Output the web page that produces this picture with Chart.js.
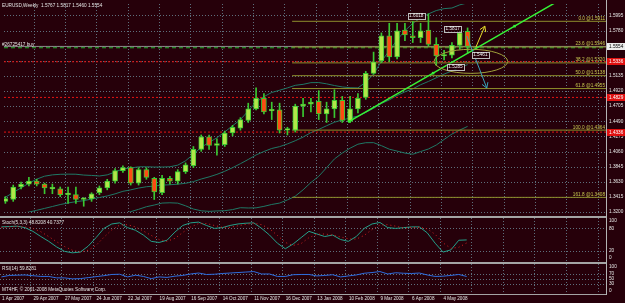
<!DOCTYPE html>
<html><head><meta charset="utf-8">
<script src="https://cdn.jsdelivr.net/npm/chart.js@4.4.1/dist/chart.umd.min.js"></script>
<style>
html,body{margin:0;padding:0;background:#26000a;overflow:hidden}
#wrap{position:relative;width:625px;height:303px;background:#26000a;overflow:hidden}
#wrap canvas{position:absolute;left:0}
.sep{position:absolute;left:0;width:607px;background:#a4a4a4}
</style></head><body>
<div id="wrap">
<canvas id="cMain" width="625" height="216" style="top:0px"></canvas>
<canvas id="cSto" width="625" height="44" style="top:218px"></canvas>
<canvas id="cRsi" width="625" height="39" style="top:264px"></canvas>
<div class="sep" style="top:216px;height:2px"></div>
<div class="sep" style="top:262px;height:2px"></div>
<div class="sep" style="top:294px;height:1px"></div>
<div style="position:absolute;left:606px;top:0;width:1px;height:295px;background:#b4b4b4"></div>
</div>
<script>
// ---------------- data ----------------
const symbol = 'EURUSD', period = 'Weekly';
const opens  = [1.3351,1.3378,1.3556,1.3597,1.3638,1.3597,1.3529,1.3529,1.3446,1.3446,1.3378,1.3385,1.3474,1.3542,1.3638,1.3789,1.3830,1.3611,1.3802,1.3679,1.3474,1.3679,1.3638,1.3775,1.3857,1.4090,1.4268,1.4145,1.4158,1.4323,1.4391,1.4501,1.4665,1.4815,1.4637,1.4651,1.4364,1.4364,1.4706,1.4733,1.4774,1.4596,1.4665,1.4788,1.4487,1.4665,1.4829,1.5171,1.5349,1.5705,1.5404,1.5787,1.5705,1.5678,1.5787,1.5582,1.5418,1.5431,1.5568,1.5767];
const highs  = [1.3419,1.3583,1.3624,1.3693,1.3665,1.3611,1.3597,1.3556,1.3556,1.3556,1.3405,1.3474,1.3570,1.3665,1.3816,1.3857,1.3843,1.3830,1.3830,1.3693,1.3720,1.3707,1.3802,1.3898,1.4131,1.4295,1.4295,1.4240,1.4350,1.4432,1.4542,1.4747,1.4966,1.4884,1.4761,1.4747,1.4405,1.4733,1.4815,1.4815,1.4925,1.4761,1.4939,1.4843,1.4843,1.4884,1.5199,1.5473,1.5746,1.5883,1.5883,1.5883,1.5911,1.5883,1.6018,1.5678,1.5500,1.5609,1.5815,1.5817];
const lows   = [1.3323,1.3351,1.3529,1.3570,1.3570,1.3460,1.3460,1.3419,1.3323,1.3323,1.3282,1.3351,1.3446,1.3515,1.3611,1.3761,1.3583,1.3583,1.3665,1.3378,1.3446,1.3597,1.3597,1.3748,1.3830,1.4062,1.4090,1.4008,1.4131,1.4282,1.4364,1.4473,1.4651,1.4596,1.4514,1.4323,1.4295,1.4336,1.4555,1.4624,1.4514,1.4473,1.4542,1.4473,1.4473,1.4610,1.4802,1.5158,1.5322,1.5336,1.5377,1.5637,1.5609,1.5609,1.5555,1.5285,1.5363,1.5390,1.5514,1.5460];
const closes = [1.3392,1.3556,1.3597,1.3638,1.3597,1.3542,1.3542,1.3446,1.3450,1.3378,1.3385,1.3460,1.3542,1.3638,1.3789,1.3830,1.3611,1.3802,1.3693,1.3487,1.3679,1.3638,1.3775,1.3871,1.4090,1.4268,1.4145,1.4172,1.4323,1.4405,1.4514,1.4665,1.4815,1.4624,1.4645,1.4364,1.4377,1.4706,1.4733,1.4761,1.4596,1.4665,1.4788,1.4501,1.4665,1.4815,1.5171,1.5336,1.5705,1.5404,1.5774,1.5719,1.5678,1.5774,1.5582,1.5418,1.5431,1.5568,1.5746,1.5554];

const bbUpper  = [1.3409,1.3477,1.3543,1.3609,1.3668,1.3709,1.3728,1.3736,1.3738,1.3737,1.3725,1.3720,1.3712,1.3728,1.3768,1.3814,1.3825,1.3842,1.3843,1.3839,1.3839,1.3843,1.3866,1.3928,1.4022,1.4121,1.4189,1.4255,1.4339,1.4426,1.4513,1.4637,1.4763,1.4840,1.4899,1.4931,1.4964,1.5001,1.5015,1.5039,1.5040,1.5022,1.4998,1.4978,1.4967,1.4964,1.5045,1.5162,1.5343,1.5493,1.5646,1.5778,1.5881,1.5959,1.6016,1.6064,1.6091,1.6100,1.6145,1.6173];
const bbMiddle = [1.3145,1.3157,1.3177,1.3199,1.3224,1.3251,1.3278,1.3306,1.3328,1.3347,1.3361,1.3384,1.3406,1.3428,1.3458,1.3494,1.3515,1.3540,1.3559,1.3569,1.3583,1.3587,1.3596,1.3608,1.3632,1.3669,1.3699,1.3735,1.3779,1.3830,1.3887,1.3947,1.4011,1.4060,1.4103,1.4129,1.4168,1.4213,1.4265,1.4329,1.4374,1.4426,1.4476,1.4508,1.4537,1.4564,1.4615,1.4674,1.4743,1.4793,1.4856,1.4908,1.4951,1.5009,1.5056,1.5108,1.5161,1.5204,1.5255,1.5295];
const bbLower  = [1.2881,1.2837,1.2811,1.2789,1.2780,1.2793,1.2828,1.2876,1.2918,1.2957,1.2997,1.3048,1.3100,1.3128,1.3148,1.3174,1.3205,1.3238,1.3275,1.3299,1.3327,1.3331,1.3326,1.3288,1.3242,1.3217,1.3209,1.3215,1.3219,1.3234,1.3261,1.3257,1.3259,1.3280,1.3307,1.3327,1.3372,1.3425,1.3515,1.3619,1.3708,1.3830,1.3954,1.4038,1.4107,1.4164,1.4185,1.4186,1.4143,1.4093,1.4066,1.4038,1.4021,1.4059,1.4096,1.4152,1.4231,1.4308,1.4365,1.4417];

const stochMain   = [84,85,86,82,72,58,45,30,18,14,16,32,55,80,92,95,82,75,62,45,42,48,70,88,95,97,88,80,82,88,92,94,95,80,62,40,25,38,55,72,65,58,62,50,45,58,80,92,96,82,80,82,84,84,68,40,16,22,48,48.8208];
const stochSignal = [82,84,85,84,80,71,58,44,31,21,16,21,34,56,76,89,90,84,73,61,50,45,53,69,84,93,93,88,83,83,87,91,94,90,79,61,42,34,39,55,64,65,62,57,52,51,61,77,89,90,86,81,82,83,79,64,41,26,29,40.7377];
const rsiValues   = [58,64,65,66,63,60,60,54,54,50,51,55,59,63,68,69,58,65,60,51,58,56,61,64,70,74,68,69,72,74,76,78,80,70,70,60,60,67,68,68,62,64,67,58,62,66,73,76,80,70,75,73,72,74,66,60,61,64,68,59.8281];

const priceTicks = [1.3200,1.3415,1.3630,1.3845,1.4060,1.4275,1.4490,1.4705,1.4920,1.5135,1.5350,1.5565,1.5780,1.5995];
const stochTicks = [0,20,80,100];
const stochLevels = [20,80];
const rsiTicks = [0,30,50,70,100];
const rsiLevels = [30,50,70];

const dates    = ['1 Apr 2007','29 Apr 2007','27 May 2007','24 Jun 2007','22 Jul 2007','19 Aug 2007','16 Sep 2007','14 Oct 2007','11 Nov 2007','16 Dec 2007','13 Jan 2008','10 Feb 2008','9 Mar 2008','6 Apr 2008','4 May 2008'];
const dateBars = [0,4,8,12,16,20,24,28,32,36,40,44,48,52,56];

const fibLevels = [0.0,23.6,38.2,50.0,61.8,100.0,161.8];
const fibPrices = [1.5911,1.5546,1.5320,1.5138,1.4955,1.4364,1.3408];
const fibStartBar = 36.6;
const redLevels = [1.5336,1.4829,1.4336];
const bidPrice = 1.5554;
const orderPrice = 1.5535;
const orderLabel = '#26725417 buy';

const trendBar   = [43.9,54.6,65.0,70.6];
const trendPrice = [1.4487,1.5174,1.5842,1.6202];

const boxText  = ['1.6018','1.5817','1.5461','1.5285'];
const boxBar   = [52.45,57.1,60.63,57.46];
const boxPrice = [1.5990,1.5808,1.5434,1.5267];

const ellipseCenter = {bar:59.42, price:1.5342}, ellipseRadius = {bars:4.69, price:0.0171};
const upArrow   = {fromBar:60.05, fromPrice:1.5541, toBar:61.2, toPrice:1.5842};
const downArrow = {fromBar:58.9, fromPrice:1.5701, toBar:61.45, toPrice:1.4962};

// ---------------- style / layout ----------------
const FONT = '"Liberation Sans", Arial, sans-serif';
const FS = 4.7;
const BG = '#26000a', TXT = '#e4e4e4', GRIDC = 'rgba(105,130,145,0.85)';
const BULL = '#b2e64a', BEAR = '#ff4a12', CLINE = '#3ac832', BBC = '#1f7866';
const X_MIN = -0.1775, X_MAX = 76.667;
const xGrid = [3.6,7.6,11.6,15.6,19.6,23.6,27.6,31.6,35.6,39.6,43.6,47.6,51.6,55.6,59.6,63.6,67.6,71.6,75.6];

const idx = closes.map((_, i) => i);
const pts = arr => arr.map((v, i) => ({x: i, y: v}));
const hline = (v, x0) => [{x: x0, y: v}, {x: X_MAX, y: v}];

function xCfg(h) {
  return {type: 'linear', min: X_MIN, max: X_MAX, offset: false, display: true,
    afterFit: s => { s.height = h; s.paddingLeft = 0; s.paddingRight = 0; },
    ticks: {display: false}, grid: {display: false, drawTicks: false}, border: {display: false}};
}
function yCfg(min, max, ticks, fmt) {
  return {type: 'linear', position: 'right', min, max,
    afterBuildTicks: s => { s.ticks = ticks.map(v => ({value: v})); },
    afterFit: s => { s.width = 19; s.paddingTop = 0; s.paddingBottom = 0; },
    ticks: {color: TXT, font: {family: FONT, size: FS}, padding: 3, autoSkip: false, callback: fmt},
    grid: {display: false, drawTicks: false}, border: {display: false}};
}
function gridPlugin(hVals) {
  return {id: 'mtgrid', beforeDatasetsDraw(chart) {
    const {ctx, chartArea: a, scales: {x, y}} = chart;
    ctx.save(); ctx.strokeStyle = GRIDC; ctx.lineWidth = 1; ctx.setLineDash([1, 2]);
    ctx.beginPath();
    xGrid.forEach(v => { const px = Math.round(x.getPixelForValue(v)) + 0.5; if (px < a.left || px > a.right) return; ctx.moveTo(px, a.top); ctx.lineTo(px, a.bottom); });
    hVals.forEach(v => { const py = Math.round(y.getPixelForValue(v)) + 0.5; ctx.moveTo(a.left, py); ctx.lineTo(a.right, py); });
    ctx.stroke(); ctx.restore();
  }};
}
function arrow(ctx, x1, y1, x2, y2, color) {
  ctx.strokeStyle = color; ctx.lineWidth = 1; ctx.setLineDash([]);
  ctx.beginPath(); ctx.moveTo(x1, y1); ctx.lineTo(x2, y2); ctx.stroke();
  const a = Math.atan2(y2 - y1, x2 - x1), L = 6, w = 0.55;
  ctx.beginPath();
  ctx.moveTo(x2 - L * Math.cos(a - w), y2 - L * Math.sin(a - w));
  ctx.lineTo(x2, y2);
  ctx.lineTo(x2 - L * Math.cos(a + w), y2 - L * Math.sin(a + w));
  ctx.stroke();
}
const baseOpts = {responsive: false, animation: false, events: [], layout: {padding: 0},
  plugins: {legend: {display: false}, tooltip: {enabled: false}}};

Chart.defaults.font.family = FONT;

// ---------------- main price chart ----------------
const mainOverlay = {id: 'mainOverlay', afterDatasetsDraw(chart) {
  const {ctx, scales: {x, y}, chartArea: a} = chart;
  const X = v => x.getPixelForValue(v), Y = v => y.getPixelForValue(v);
  ctx.save();
  ctx.font = `${FS}px ${FONT}`;
  // fibo labels
  ctx.fillStyle = '#c8c850'; ctx.textAlign = 'right'; ctx.textBaseline = 'bottom';
  fibLevels.forEach((l, i) => ctx.fillText(`${l.toFixed(1)} @${fibPrices[i].toFixed(4)}`, a.right - 1, Y(fibPrices[i]) - 0.5));
  // title and order text
  const n = closes.length - 1;
  ctx.fillStyle = TXT; ctx.textAlign = 'left'; ctx.textBaseline = 'middle';
  ctx.fillText(`${symbol},${period}  ${opens[n].toFixed(4)} ${highs[n].toFixed(4)} ${lows[n].toFixed(4)} ${closes[n].toFixed(4)}`, 2, 5.5);
  ctx.textBaseline = 'bottom';
  ctx.fillText(orderLabel, 2, Y(orderPrice) - 0.5);
  // ellipse
  ctx.strokeStyle = '#a0a03a'; ctx.lineWidth = 1;
  ctx.beginPath();
  ctx.ellipse(X(ellipseCenter.bar), Y(ellipseCenter.price),
    Math.abs(X(ellipseCenter.bar + ellipseRadius.bars) - X(ellipseCenter.bar)),
    Math.abs(Y(ellipseCenter.price + ellipseRadius.price) - Y(ellipseCenter.price)), 0, 0, Math.PI * 2);
  ctx.stroke();
  // arrows
  arrow(ctx, X(upArrow.fromBar), Y(upArrow.fromPrice), X(upArrow.toBar), Y(upArrow.toPrice), '#e6dc2a');
  arrow(ctx, X(downArrow.fromBar), Y(downArrow.fromPrice), X(downArrow.toBar), Y(downArrow.toPrice), '#38a2b8');
  // price label boxes
  ctx.textAlign = 'center'; ctx.textBaseline = 'middle';
  boxText.forEach((t, i) => {
    const cx = X(boxBar[i]), cy = Y(boxPrice[i]), w = ctx.measureText(t).width + 3;
    ctx.fillStyle = BG; ctx.fillRect(cx - w / 2, cy - 3, w, 6);
    ctx.strokeStyle = '#bcbcbc'; ctx.strokeRect(Math.round(cx - w / 2) + 0.5, Math.round(cy - 3) + 0.5, Math.round(w), 6);
    ctx.fillStyle = '#f0f0f0'; ctx.fillText(t, cx, cy + 0.3);
  });
  // axis boxes
  ctx.textAlign = 'left';
  redLevels.forEach(p => {
    const cy = Y(p);
    ctx.fillStyle = '#e01010'; ctx.fillRect(a.right + 1, Math.round(cy - 3.5), 19, 7);
    ctx.fillStyle = '#ffffff'; ctx.fillText(p.toFixed(4), a.right + 3, cy + 0.3);
  });
  const by = Y(bidPrice);
  ctx.fillStyle = '#ececec'; ctx.fillRect(a.right + 1, Math.round(by - 3.5), 19, 7);
  ctx.fillStyle = '#000000'; ctx.fillText(bidPrice.toFixed(4), a.right + 3, by + 0.3);
  ctx.restore();
}};

const lineDs = (data, color, extra) => Object.assign({type: 'line', data, borderColor: color, borderWidth: 1, pointRadius: 0, tension: 0}, extra || {});

new Chart(document.getElementById('cMain'), {
  type: 'bar',
  data: {datasets: [
    lineDs(pts(bbUpper), BBC, {order: 10}),
    lineDs(pts(bbMiddle), BBC, {order: 10}),
    lineDs(pts(bbLower), BBC, {order: 10}),
    ...fibPrices.map(p => lineDs(hline(p, fibStartBar), '#8e8e2c', {order: 9})),
    ...redLevels.map(p => lineDs(hline(p, X_MIN), '#e41414', {order: 9, borderDash: [2, 2]})),
    lineDs(hline(bidPrice, X_MIN), '#8a8a8a', {order: 9}),
    lineDs(hline(orderPrice, X_MIN), '#22b02c', {order: 9, borderDash: [4, 3]}),
    {type: 'bar', data: idx.map(i => ({x: i, y: [lows[i], highs[i]]})), backgroundColor: CLINE,
      borderWidth: 0, barThickness: 1, grouped: false, order: 5},
    {type: 'bar', data: idx.map(i => ({x: i, y: [opens[i], closes[i]]})),
      backgroundColor: c => closes[c.dataIndex] >= opens[c.dataIndex] ? BULL : BEAR,
      borderColor: CLINE, borderWidth: 1, borderSkipped: false, barThickness: 5, grouped: false, minBarLength: 1.5, order: 4},
    lineDs(trendBar.map((b, i) => ({x: b, y: trendPrice[i]})), '#36f236',
      {order: 1, borderWidth: 1.5, pointRadius: [1.8, 1.8, 1.8, 0], pointStyle: 'rect', pointBackgroundColor: '#36f236', pointBorderWidth: 0})
  ]},
  options: Object.assign({}, baseOpts, {scales: {
    x: xCfg(0),
    y: yCfg(1.3200, 1.6157, priceTicks, v => Number(v).toFixed(4))
  }}),
  plugins: [gridPlugin(priceTicks), mainOverlay]
});

// ---------------- stochastic ----------------
new Chart(document.getElementById('cSto'), {
  type: 'line',
  data: {datasets: [
    lineDs(pts(stochSignal), '#d42222', {borderDash: [1, 3]}),
    lineDs(pts(stochMain), '#24a08a')
  ]},
  options: Object.assign({}, baseOpts, {scales: {
    x: xCfg(0),
    y: yCfg(-10.8, 108.1, stochTicks, v => String(v))
  }}),
  plugins: [gridPlugin(stochLevels), {id: 'stoLbl', afterDatasetsDraw(chart) {
    const ctx = chart.ctx; const n = stochMain.length - 1;
    ctx.save(); ctx.font = `${FS}px ${FONT}`; ctx.fillStyle = TXT; ctx.textBaseline = 'middle';
    ctx.fillText(`Stoch(5,3,3) ${stochMain[n].toFixed(4)} ${stochSignal[n].toFixed(4)}`, 2, 4.5);
    ctx.restore();
  }}]
});

// ---------------- RSI ----------------
new Chart(document.getElementById('cRsi'), {
  type: 'line',
  data: {datasets: [ lineDs(pts(rsiValues), '#2e6ee0') ]},
  options: Object.assign({}, baseOpts, {scales: {
    x: xCfg(9),
    y: yCfg(-12.3, 111.1, rsiTicks, v => String(v))
  }}),
  plugins: [gridPlugin(rsiLevels), {id: 'rsiLbl', afterDatasetsDraw(chart) {
    const {ctx, scales: {x}, chartArea: a} = chart; const n = rsiValues.length - 1;
    ctx.save(); ctx.font = `${FS}px ${FONT}`; ctx.fillStyle = TXT; ctx.textBaseline = 'middle'; ctx.textAlign = 'left';
    ctx.fillText(`RSI(14) ${rsiValues[n].toFixed(4)}`, 2, 4.5);
    ctx.fillText('MT4HF, \u00a9 2001-2008 MetaQuotes Software Corp.', 2, 26);
    ctx.font = `4.6px ${FONT}`;
    dateBars.forEach((b, i) => ctx.fillText(dates[i], x.getPixelForValue(b) + 0.5, a.bottom + 5));
    ctx.restore();
  }}]
});
</script>
</body></html>
